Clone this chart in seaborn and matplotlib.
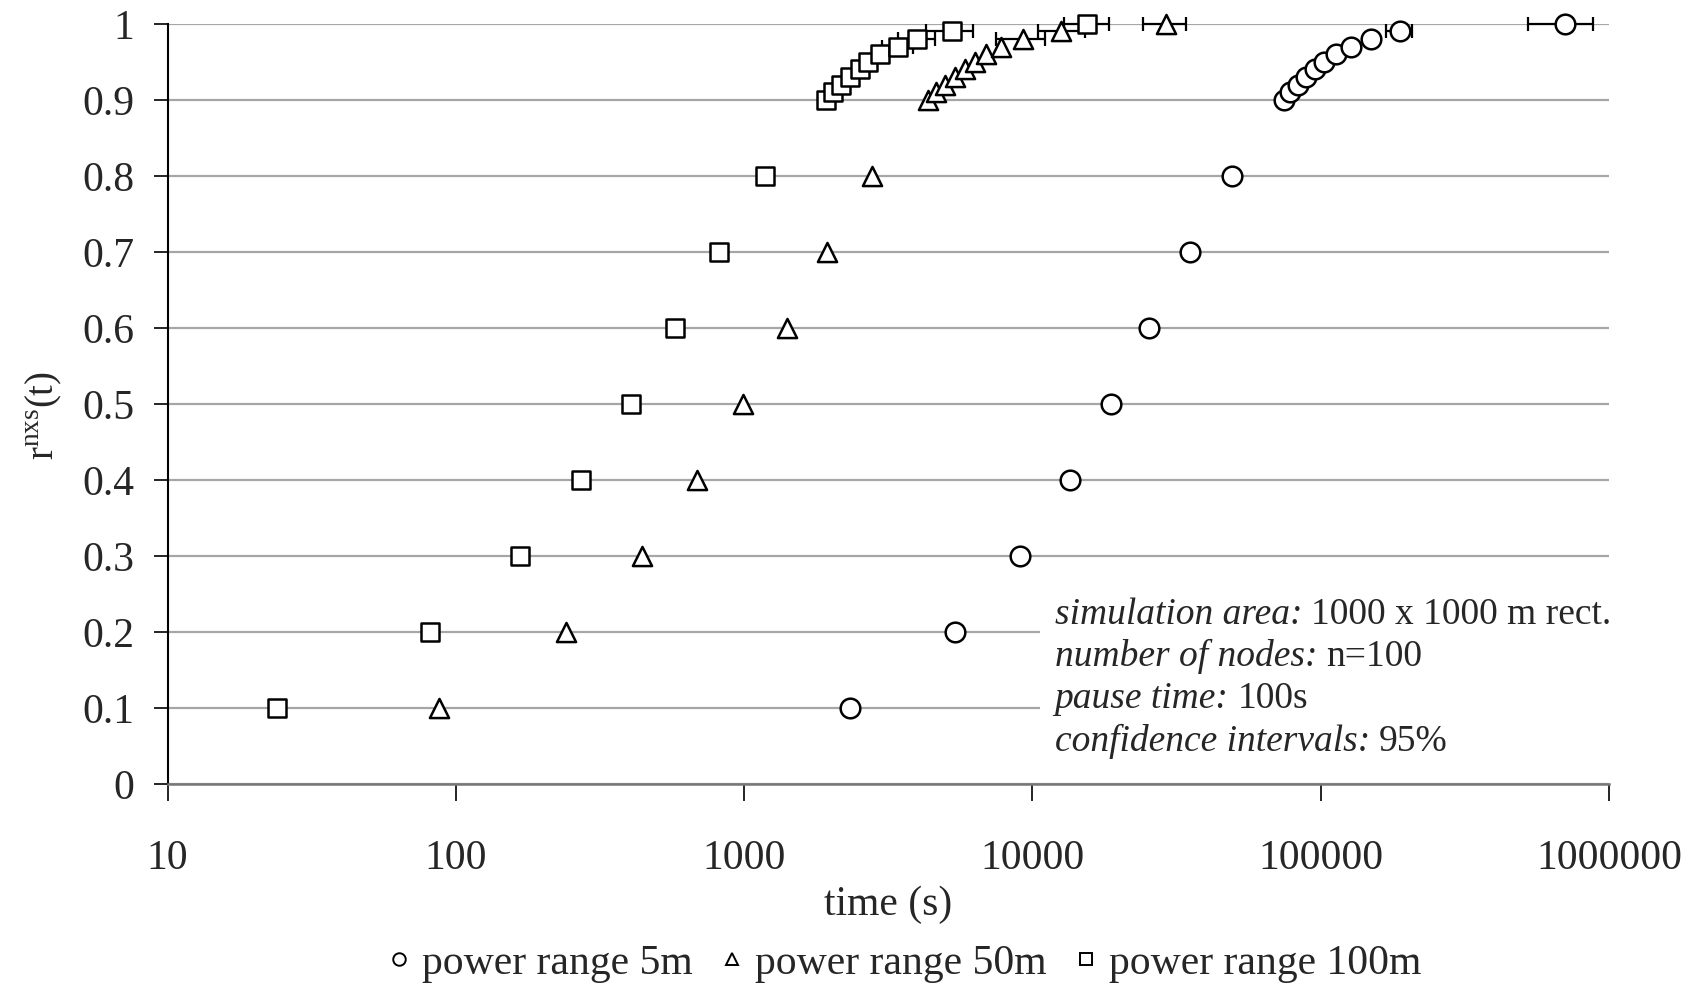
import numpy as np
import pandas as pd
import matplotlib
matplotlib.use("Agg")
import matplotlib.pyplot as plt
from matplotlib.lines import Line2D
from matplotlib.patches import Rectangle
import seaborn as sns

# fraction of time levels r^nxs(t)
levels = [0.1, 0.2, 0.3, 0.4, 0.5, 0.6, 0.7, 0.8, 0.9,
          0.91, 0.92, 0.93, 0.94, 0.95, 0.96, 0.97, 0.98, 0.99, 1.0]

# time (s) to reach each level, per power range
time_5m = [2330, 5380, 9030, 13550, 18660, 25460, 35340, 49100, 74300,
           78000, 83400, 89100, 95200, 103000, 113200, 127600, 149900, 187900, 701500]
time_50m = [87.4, 242, 443, 689, 990, 1410, 1941, 2766, 4335,
            4645, 4965, 5380, 5823, 6306, 6921, 7802, 9270, 12600, 29170]
time_100m = [23.9, 81.5, 167, 271, 406, 574, 818, 1186, 1924,
             2028, 2165, 2328, 2516, 2688, 2954, 3404, 3962, 5240, 15430]

# 95% confidence bounds (only the top levels show visible intervals)
ci_lo_5m = time_5m[:17] + [168700, 523300]
ci_hi_5m = time_5m[:17] + [207600, 878800]
ci_lo_50m = time_50m[:16] + [7500, 10480, 24170]
ci_hi_50m = time_50m[:16] + [11040, 15170, 34140]
ci_lo_100m = time_100m[:15] + [3005, 3428, 4290, 12860]
ci_hi_100m = time_100m[:15] + [3855, 4585, 6230, 18500]

series_names = ["power range 5m", "power range 50m", "power range 100m"]
x_ticks = [10, 100, 1000, 10000, 100000, 1000000]
y_ticks = [0, 0.1, 0.2, 0.3, 0.4, 0.5, 0.6, 0.7, 0.8, 0.9, 1]
y_ticklabels = ["0", "0.1", "0.2", "0.3", "0.4", "0.5", "0.6", "0.7", "0.8", "0.9", "1"]

note_keys = ["simulation area:", "number of nodes:", "pause time:", "confidence intervals:"]
note_values = ["1000 x 1000 m rect.", "n=100", "100s", "95%"]

df = pd.concat([
    pd.DataFrame({"time": time_5m, "r": levels, "lo": ci_lo_5m, "hi": ci_hi_5m, "series": series_names[0]}),
    pd.DataFrame({"time": time_50m, "r": levels, "lo": ci_lo_50m, "hi": ci_hi_50m, "series": series_names[1]}),
    pd.DataFrame({"time": time_100m, "r": levels, "lo": ci_lo_100m, "hi": ci_hi_100m, "series": series_names[2]}),
], ignore_index=True)

sns.set_theme(style="white")
plt.rcParams["font.family"] = ["Liberation Serif", "DejaVu Serif"]
plt.rcParams["mathtext.fontset"] = "custom"
plt.rcParams["mathtext.rm"] = "Liberation Serif"
plt.rcParams["mathtext.it"] = "Liberation Serif:italic"

fig = plt.figure(figsize=(16.96, 9.85), dpi=100)
ax = fig.add_axes([0.0988, 0.204, 0.8499, 0.7718])

ax.set_xscale("log")
ax.set_xlim(10, 1000000)
ax.set_ylim(0, 1)

# horizontal grid lines
for y in y_ticks:
    ax.axhline(y, color="#a6a6a6", lw=1.6, zorder=0)

# white patch behind the note interrupts the grid lines
ax.add_patch(Rectangle((0.6056, 0.06), 0.4, 0.22, transform=ax.transAxes,
                       facecolor="white", edgecolor="none", zorder=0.5, clip_on=False))

# confidence interval bars
for name in series_names:
    d = df[df["series"] == name]
    xerr = np.vstack([d["time"] - d["lo"], d["hi"] - d["time"]])
    ax.errorbar(d["time"], d["r"], xerr=xerr, fmt="none", ecolor="black",
                elinewidth=1.6, capsize=5, capthick=1.6, zorder=2, clip_on=False)

markers = {series_names[0]: "o", series_names[1]: "^", series_names[2]: "s"}
sizes = {series_names[0]: 200, series_names[1]: 190, series_names[2]: 155}
for name in series_names:
    sns.scatterplot(data=df[df["series"] == name], x="time", y="r",
                    marker=markers[name], s=sizes[name],
                    color="white", edgecolor="black", linewidth=1.8,
                    legend=False, ax=ax, zorder=3, clip_on=False)

ax.set_xticks(x_ticks)
ax.set_xticklabels([str(v) for v in x_ticks])
ax.xaxis.set_minor_locator(matplotlib.ticker.NullLocator())
ax.set_yticks(y_ticks)
ax.set_yticklabels(y_ticklabels)
ax.tick_params(axis="x", direction="out", length=12, width=1.2, color="black",
               pad=28, labelsize=30, bottom=True)
ax.tick_params(axis="y", direction="out", length=10, width=1.2, color="black",
               pad=14, labelsize=30, left=True)

for side in ["top", "right"]:
    ax.spines[side].set_visible(False)
ax.spines["left"].set_color("black")
ax.spines["left"].set_linewidth(1.5)
ax.spines["bottom"].set_color("#777777")
ax.spines["bottom"].set_linewidth(1.8)

ax.set_xlabel("time (s)", fontsize=30)
ax.xaxis.set_label_coords(0.5, -0.134)
ax.set_ylabel(r"r$^{\mathrm{nxs}}$(t)", fontsize=28)
ax.yaxis.set_label_coords(-0.072, 0.485)

# note: italic key followed by upright value on each line
baselines = [0.2107, 0.1553, 0.0998, 0.0440]
key_texts = []
for key, yb in zip(note_keys, baselines):
    key_texts.append(ax.text(0.6154, yb, key, transform=ax.transAxes, fontsize=27,
                             style="italic", va="baseline", ha="left", zorder=4))
fig.canvas.draw()
renderer = fig.canvas.get_renderer()
inv = ax.transAxes.inverted()
for t, val, yb in zip(key_texts, note_values, baselines):
    bb = t.get_window_extent(renderer)
    x_end = inv.transform((bb.x1 + 9, bb.y0))[0]
    ax.text(x_end, yb, val, transform=ax.transAxes, fontsize=27,
            va="baseline", ha="left", zorder=4)

handles = [Line2D([], [], ls="none", marker=markers[n], markersize=9,
                  markerfacecolor="white", markeredgecolor="black",
                  markeredgewidth=1.4) for n in series_names]
fig.legend(handles, series_names, loc="center", bbox_to_anchor=(0.5325, 0.022),
           ncol=3, frameon=False, fontsize=30, handletextpad=0.2,
           columnspacing=0.6, handlelength=0.7)

fig.savefig("out.png", dpi=100, facecolor="white")
